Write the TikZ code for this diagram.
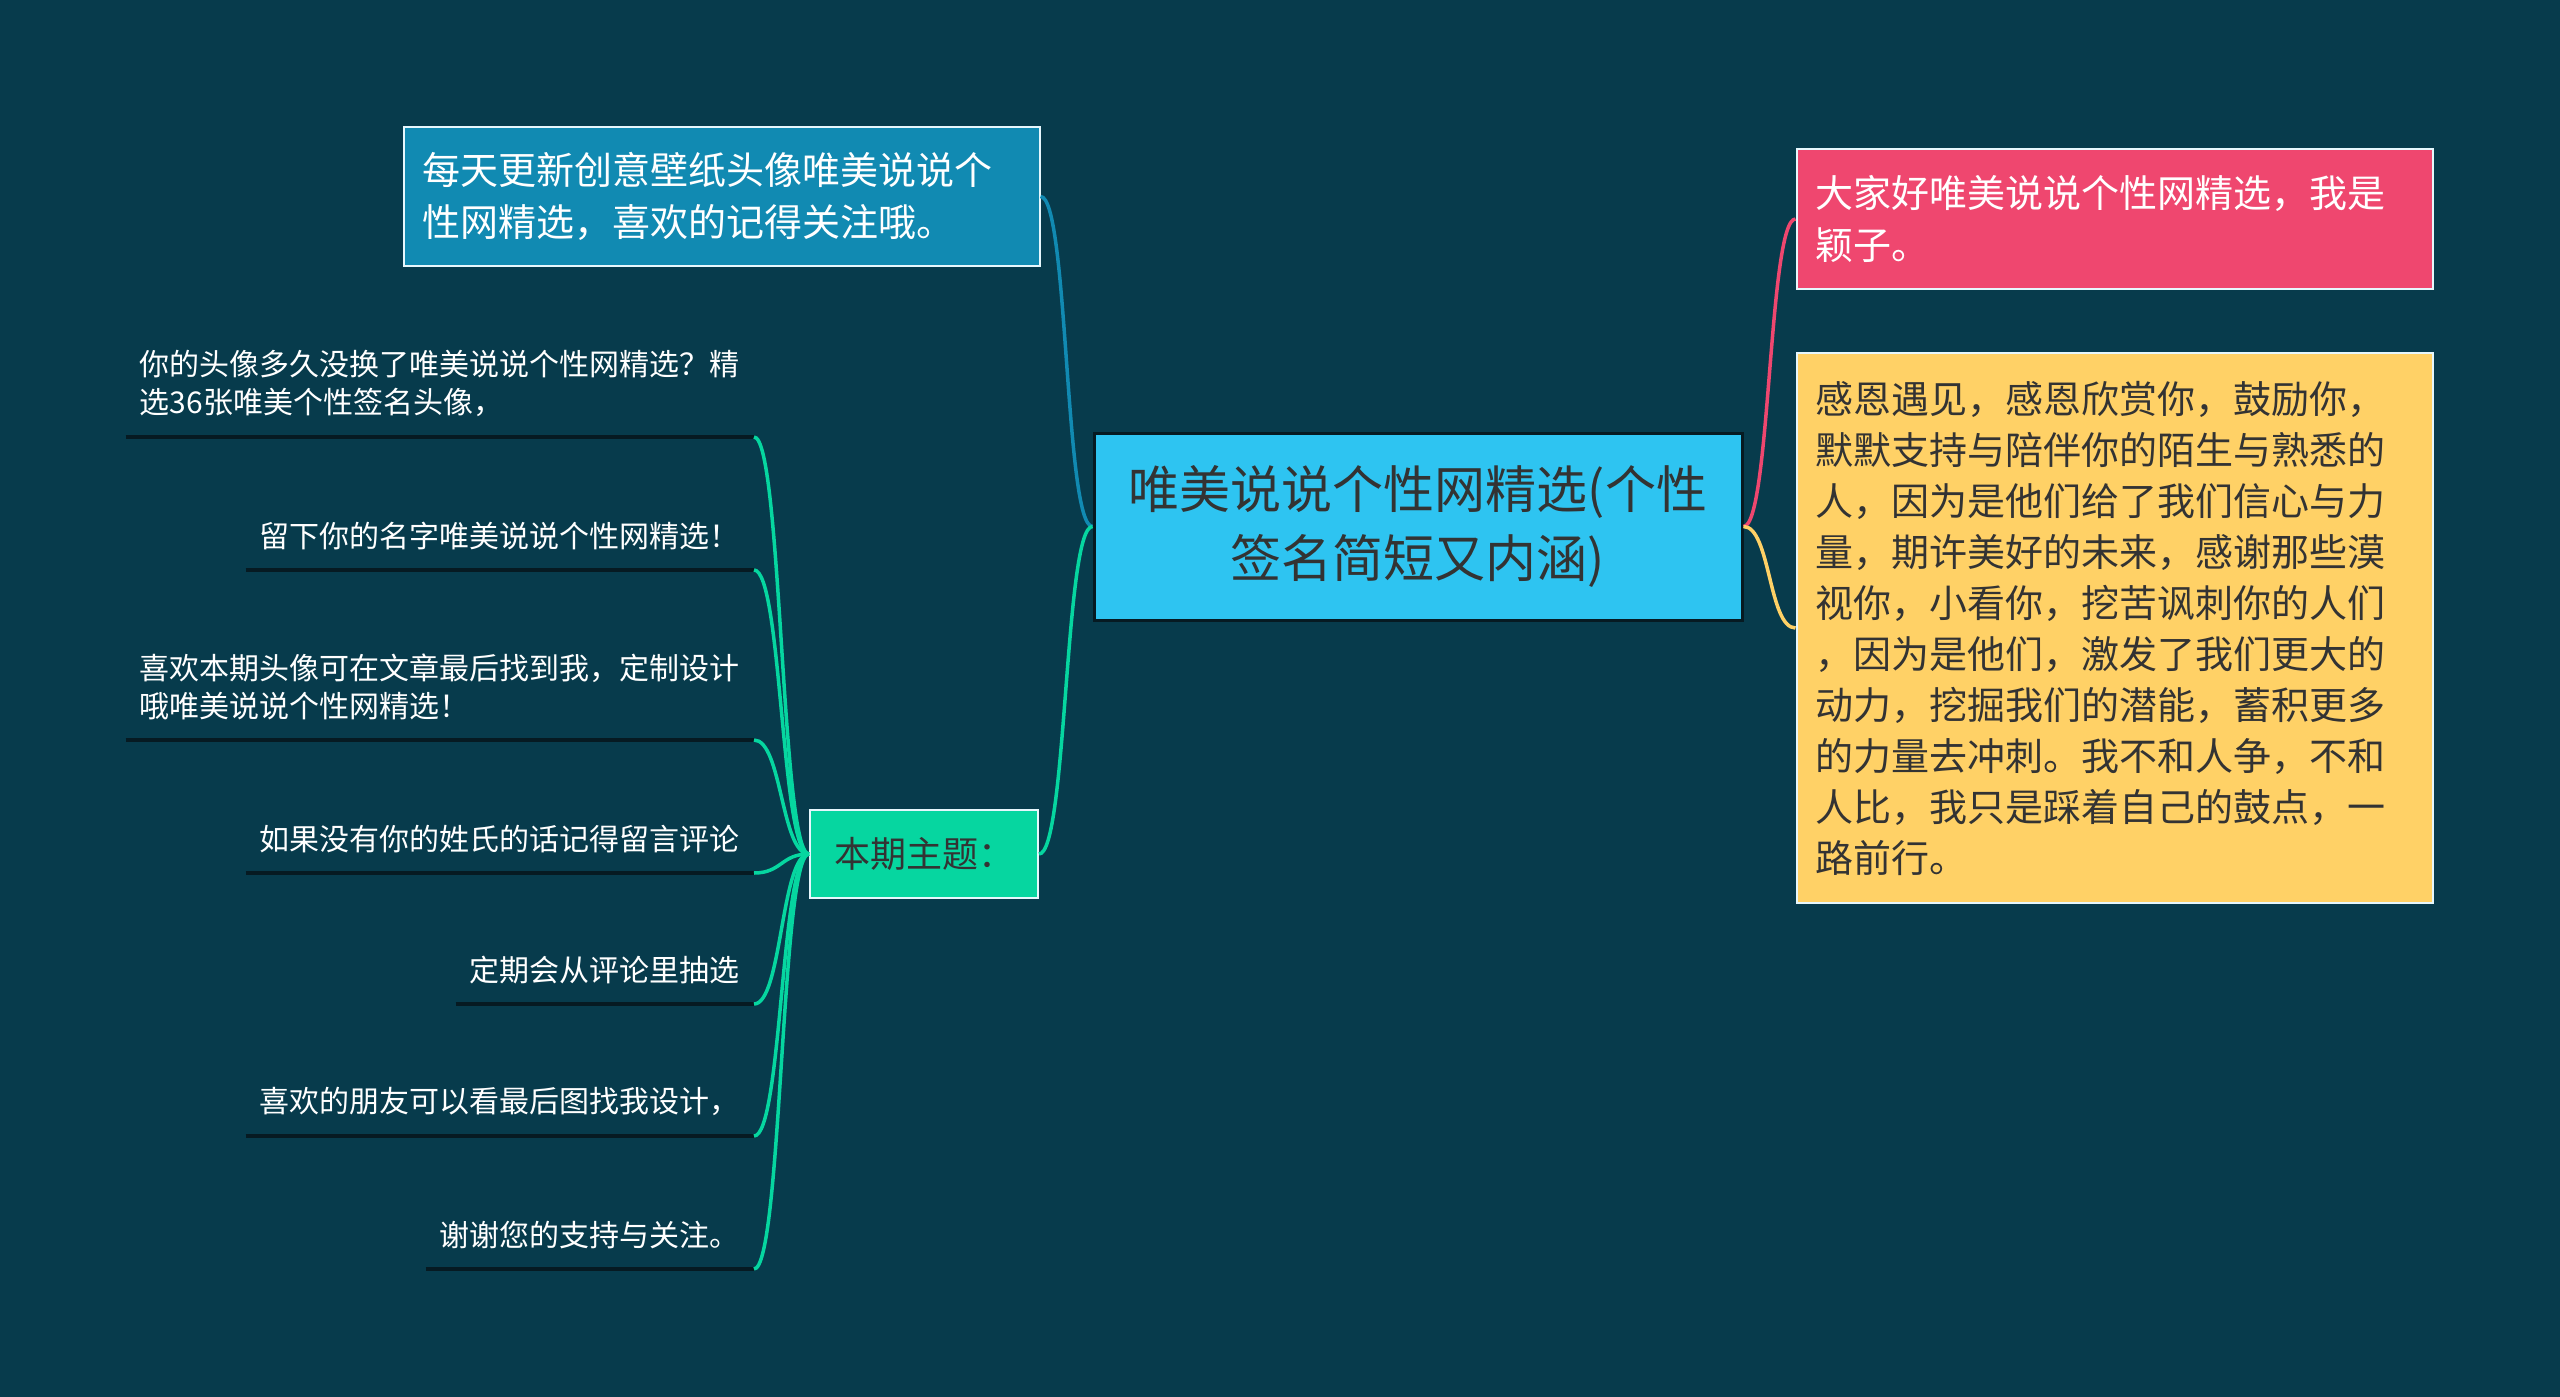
\documentclass[tikz,border=0pt]{standalone}
\usepackage{fontspec}
\usepackage[]{xcolor}
\usepackage{tikz}
\newfontfamily\cjk{Noto Sans CJK SC}
\definecolor{bgc}{HTML}{073B4C}
\definecolor{bluec}{HTML}{118AB2}
\definecolor{cyanc}{HTML}{2EC4F1}
\definecolor{pinkc}{HTML}{EF476F}
\definecolor{yelc}{HTML}{FFD166}
\definecolor{grnc}{HTML}{06D6A0}
\definecolor{inkc}{HTML}{333333}
\definecolor{linec}{HTML}{061A22}

\begin{document}
\begin{tikzpicture}[
					x=1pt,y=-1pt,
					bnode/.style={rectangle,draw=white!90!cyan,line width=2pt,inner xsep=19pt,inner ysep=0pt,text width=598pt,align=left,font=\cjk\fontsize{38}{52}\selectfont},
					lnode/.style={inner xsep=14pt,inner ysep=20pt,align=left,text=white,font=\cjk\fontsize{30}{38}\selectfont},
					uline/.style={draw=linec,line width=4pt},
					cedge/.style={line width=3.5pt}
					]
					\fill[bgc] (0,0) rectangle (2560,1397);
					\useasboundingbox (0,0) rectangle (2560,1397);
					\node[rectangle,draw=linec,line width=3pt,fill=cyanc,minimum width=648pt,minimum height=187pt,align=center,text=inkc,font=\cjk\fontsize{51}{69}\selectfont] (nroot) at (1418,526.5) {唯美说说个性网精选(个性\\签名简短又内涵)};
					\node[bnode,fill=bluec,text=white,minimum height=139pt] (nblue) at (721.5,196.5) {每天更新创意壁纸头像唯美说说个\\性网精选，喜欢的记得关注哦。};
					\node[bnode,fill=pinkc,text=white,minimum height=140pt] (npink) at (2114.5,219) {大家好唯美说说个性网精选，我是\\颖子。};
					\node[bnode,fill=yelc,text=inkc,minimum height=550pt,font=\cjk\fontsize{38}{51}\selectfont] (nyel) at (2114.5,628) {感恩遇见，感恩欣赏你，鼓励你，\\默默支持与陪伴你的陌生与熟悉的\\人，因为是他们给了我们信心与力\\量，期许美好的未来，感谢那些漠\\视你，小看你，挖苦讽刺你的人们\\，因为是他们，激发了我们更大的\\动力，挖掘我们的潜能，蓄积更多\\的力量去冲刺。我不和人争，不和\\人比，我只是踩着自己的鼓点，一\\路前行。};
					\node[rectangle,draw=white!90!cyan,line width=2pt,fill=grnc,minimum width=228pt,minimum height=88pt,text=inkc,font=\cjk\fontsize{36}{44}\selectfont] (ntopic) at (924,854) {本期主题：};
					\draw[cedge,bluec] (nroot.west) .. controls +(-28,0) and +(28,0) .. (nblue.east);
					\draw[cedge,grnc] (nroot.west) .. controls +(-28,0) and +(28,0) .. (ntopic.east);
					\draw[cedge,pinkc] (nroot.east) .. controls +(27,0) and +(-27,0) .. (npink.west);
					\draw[cedge,yelc] (nroot.east) .. controls +(27,0) and +(-27,0) .. (nyel.west);
					\foreach \i/\y/\txt in {1/437/{你的头像多久没换了唯美说说个性网精选？精\\选36张唯美个性签名头像，},
						2/570/{留下你的名字唯美说说个性网精选！},
						3/740/{喜欢本期头像可在文章最后找到我，定制设计\\哦唯美说说个性网精选！},
						4/873/{如果没有你的姓氏的话记得留言评论},
						5/1004/{定期会从评论里抽选},
						6/1136/{喜欢的朋友可以看最后图找我设计，},
						7/1269/{谢谢您的支持与关注。}}{
						\node[lnode,anchor=south east] (nl\i) at (754,\y) {\txt};
						\draw[uline] (nl\i.south west) -- (nl\i.south east);
						\draw[cedge,grnc] (ntopic.west) .. controls +(-28,0) and +(28,0) .. (nl\i.south east);
					}
				\end{tikzpicture}
\end{document}
